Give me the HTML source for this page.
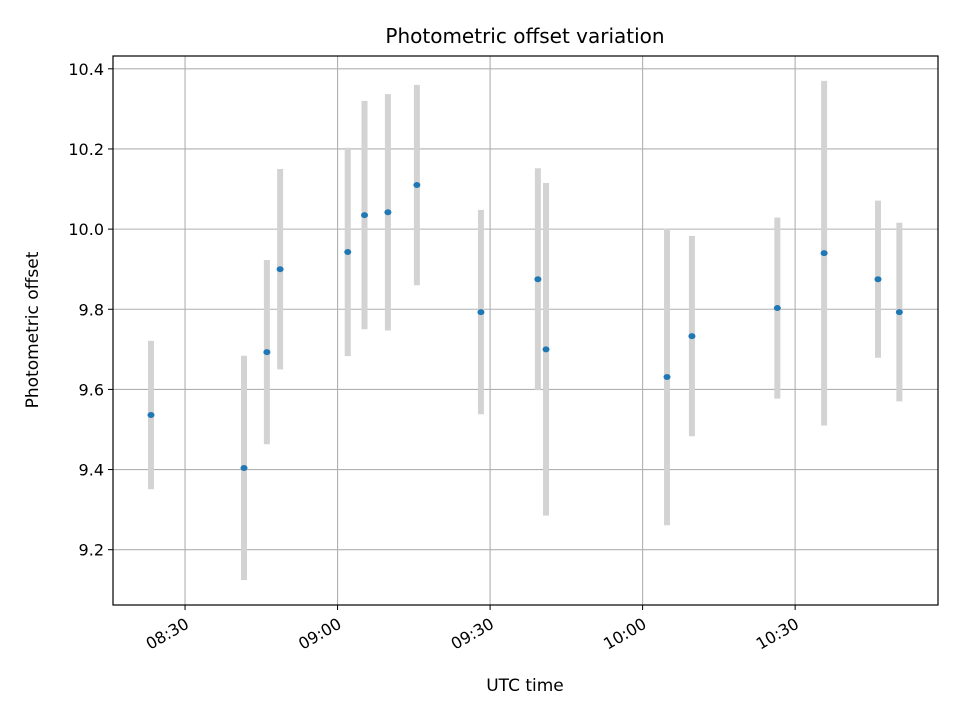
<!DOCTYPE html>
<html><head><meta charset="utf-8"><style>
body{margin:0;background:#fff;}
svg text{font-family:"DejaVu Sans","Liberation Sans",sans-serif;fill:#000;}
</style></head><body>
<svg id="chart" width="960" height="720" xmlns="http://www.w3.org/2000/svg">
<rect width="960" height="720" fill="#fff"/>
<text x="525" y="43" font-size="20" text-anchor="middle">Photometric offset variation</text>
<g id="grid"></g><g id="bars"></g><g id="pts"></g><g id="ticks"></g>
<rect x="113" y="56" width="825" height="549" fill="none" stroke="#000" stroke-width="1.2"/>
<text x="525" y="691" font-size="17" text-anchor="middle">UTC time</text>
<text transform="translate(38,330) rotate(-90)" font-size="17" text-anchor="middle">Photometric offset</text>
</svg>
<script>
// minutes after 08:00 UTC
const times=[23.3,41.6,46.1,48.7,62.0,65.3,69.9,75.6,88.2,99.4,101.0,124.8,129.7,146.5,155.7,166.3,170.5];
const values=[9.536,9.404,9.693,9.900,9.943,10.035,10.042,10.110,9.793,9.875,9.700,9.631,9.733,9.803,9.940,9.875,9.793];
const errors=[0.185,0.28,0.23,0.25,0.26,0.285,0.295,0.25,0.255,0.277,0.415,0.37,0.25,0.226,0.43,0.196,0.223];
const yTicks=[9.2,9.4,9.6,9.8,10.0,10.2,10.4];
const xTicks=[30,60,90,120,150];
const xTickLabels=["08:30","09:00","09:30","10:00","10:30"];
const L=113,R=938,T=56,B=605,xmin=15.83,xmax=178.1,ymin=9.062,ymax=10.432;
const X=m=>L+(m-xmin)/(xmax-xmin)*(R-L);
const Y=v=>B-(v-ymin)/(ymax-ymin)*(B-T);
const NS="http://www.w3.org/2000/svg";
function mk(tag,attrs,parent){const e=document.createElementNS(NS,tag);for(const k in attrs)e.setAttribute(k,attrs[k]);document.getElementById(parent).appendChild(e);return e;}
yTicks.forEach(v=>{const y=Y(v);
 const g=mk('line',{x1:L,x2:R,y1:y,y2:y,stroke:'#b0b0b0','stroke-width':1.1},'grid');
 
 mk('line',{x1:L-5,x2:L,y1:y,y2:y,stroke:'#000'},'ticks');
 const t=mk('text',{x:L-9,y:y+6,'font-size':16,'text-anchor':'end'},'ticks');t.textContent=v.toFixed(1);
 });
xTicks.forEach((m,i)=>{const x=X(m);
 const g=mk('line',{x1:x,x2:x,y1:T,y2:B,stroke:'#b0b0b0','stroke-width':1.1},'grid');
 
 mk('line',{x1:x,x2:x,y1:B,y2:B+5,stroke:'#000'},'ticks');
 const ax=x+5, ay=B+22;
 const t=mk('text',{x:ax,y:ay,'font-size':16,'text-anchor':'end',transform:`rotate(-30 ${ax} ${ay})`},'ticks');t.textContent=xTickLabels[i];
 });
times.forEach((m,i)=>{const x=X(m);
 const b=mk('line',{x1:x,x2:x,y1:Y(values[i]+errors[i]),y2:Y(values[i]-errors[i]),stroke:'#d3d3d3','stroke-width':6},'bars');
 
 const p=mk('ellipse',{cx:x,cy:Y(values[i]),rx:3.5,ry:3,fill:'#1f77b4'},'pts');
 });
</script>
</body></html>
